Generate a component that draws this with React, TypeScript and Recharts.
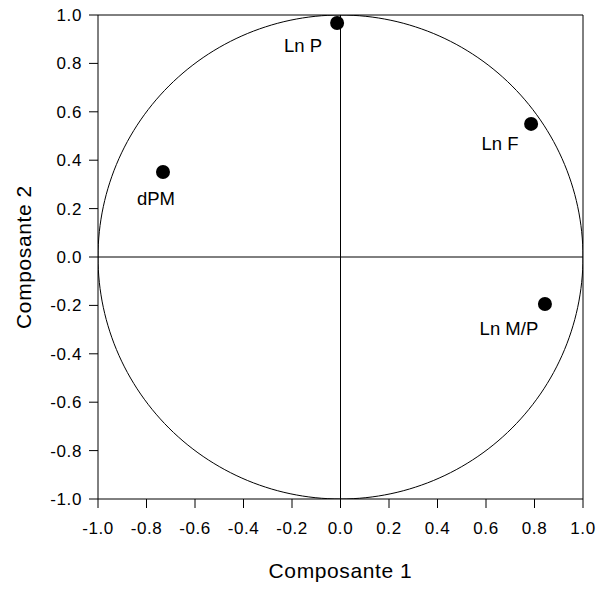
import { Label, ReferenceLine, Scatter, ScatterChart, XAxis, YAxis } from "recharts";

const names = ["dPM", "Ln P", "Ln F", "Ln M/P"];
const comp1 = [-0.732, -0.014, 0.786, 0.843];
const comp2 = [0.351, 0.967, 0.55, -0.194];
const ticks = [-1, -0.8, -0.6, -0.4, -0.2, 0, 0.2, 0.4, 0.6, 0.8, 1];

const points = names.map((name, i) => ({ name, x: comp1[i], y: comp2[i] }));

// label placement relative to the dot, in px
const labelOffset: Record<string, [number, number]> = {
  dPM: [-7, 26],
  "Ln P": [-34, 23],
  "Ln F": [-31, 20],
  "Ln M/P": [-36, 25],
};

// unit correlation circle outline
const circle = Array.from({ length: 241 }, (_, i) => {
  const t = (i / 240) * 2 * Math.PI;
  return { x: Math.cos(t), y: Math.sin(t) };
});

const FONT = "'Liberation Sans', Arial, sans-serif";

const Dot = (props: any) => {
  const { cx, cy, payload } = props;
  const [dx, dy] = labelOffset[payload.name] || [0, 20];
  return (
    <g>
      <circle cx={cx} cy={cy} r={7} fill="#000" />
      <text
        x={cx + dx}
        y={cy + dy}
        textAnchor="middle"
        dominantBaseline="central"
        fontSize={18.5}
        fontFamily={FONT}
        fill="#000"
      >
        {payload.name}
      </text>
    </g>
  );
};

export default function App() {
  const tickStyle = { fontSize: 17, fill: "#000", fontFamily: FONT, letterSpacing: 0.6 };
  return (
    <div style={{ position: "absolute", left: 0, top: 0, background: "#fff" }}>
      <ScatterChart
        width={598}
        height={589}
        margin={{ top: 15, right: 15, left: 0, bottom: 0 }}
      >
        <XAxis
          type="number"
          dataKey="x"
          domain={[-1, 1]}
          ticks={ticks}
          allowDataOverflow
          tickFormatter={(v: number) => v.toFixed(1)}
          tick={tickStyle}
          tickSize={9}
          tickMargin={14}
          height={90}
          axisLine={{ stroke: "#000" }}
          tickLine={{ stroke: "#000" }}
        >
          <Label
            content={({ viewBox }: any) => (
              <text
                x={viewBox.x + viewBox.width / 2}
                y={viewBox.y + 71}
                textAnchor="middle"
                dominantBaseline="central"
                fontSize={21}
                letterSpacing={0.6}
                fontFamily={FONT}
                fill="#000"
              >
                Composante 1
              </text>
            )}
          />
        </XAxis>
        <YAxis
          type="number"
          dataKey="y"
          domain={[-1, 1]}
          ticks={ticks}
          allowDataOverflow
          tickFormatter={(v: number) => v.toFixed(1)}
          tick={tickStyle}
          tickSize={9}
          tickMargin={7}
          width={98}
          axisLine={{ stroke: "#000" }}
          tickLine={{ stroke: "#000" }}
        >
          <Label
            content={({ viewBox }: any) => {
              const cy = viewBox.y + viewBox.height / 2;
              return (
                <text
                  x={23}
                  y={cy}
                  transform={`rotate(-90, 23, ${cy})`}
                  textAnchor="middle"
                  dominantBaseline="central"
                  fontSize={21}
                  letterSpacing={0.6}
                  fontFamily={FONT}
                  fill="#000"
                >
                  Composante 2
                </text>
              );
            }}
          />
        </YAxis>
        <ReferenceLine x={0} stroke="#000" />
        <ReferenceLine y={0} stroke="#000" />
        <ReferenceLine x={1} stroke="#000" />
        <ReferenceLine y={1} stroke="#000" />
        <Scatter
          data={circle}
          line={{ stroke: "#000", strokeWidth: 1 }}
          shape={() => <g />}
          isAnimationActive={false}
        />
        <Scatter data={points} shape={Dot} isAnimationActive={false} />
      </ScatterChart>
    </div>
  );
}
